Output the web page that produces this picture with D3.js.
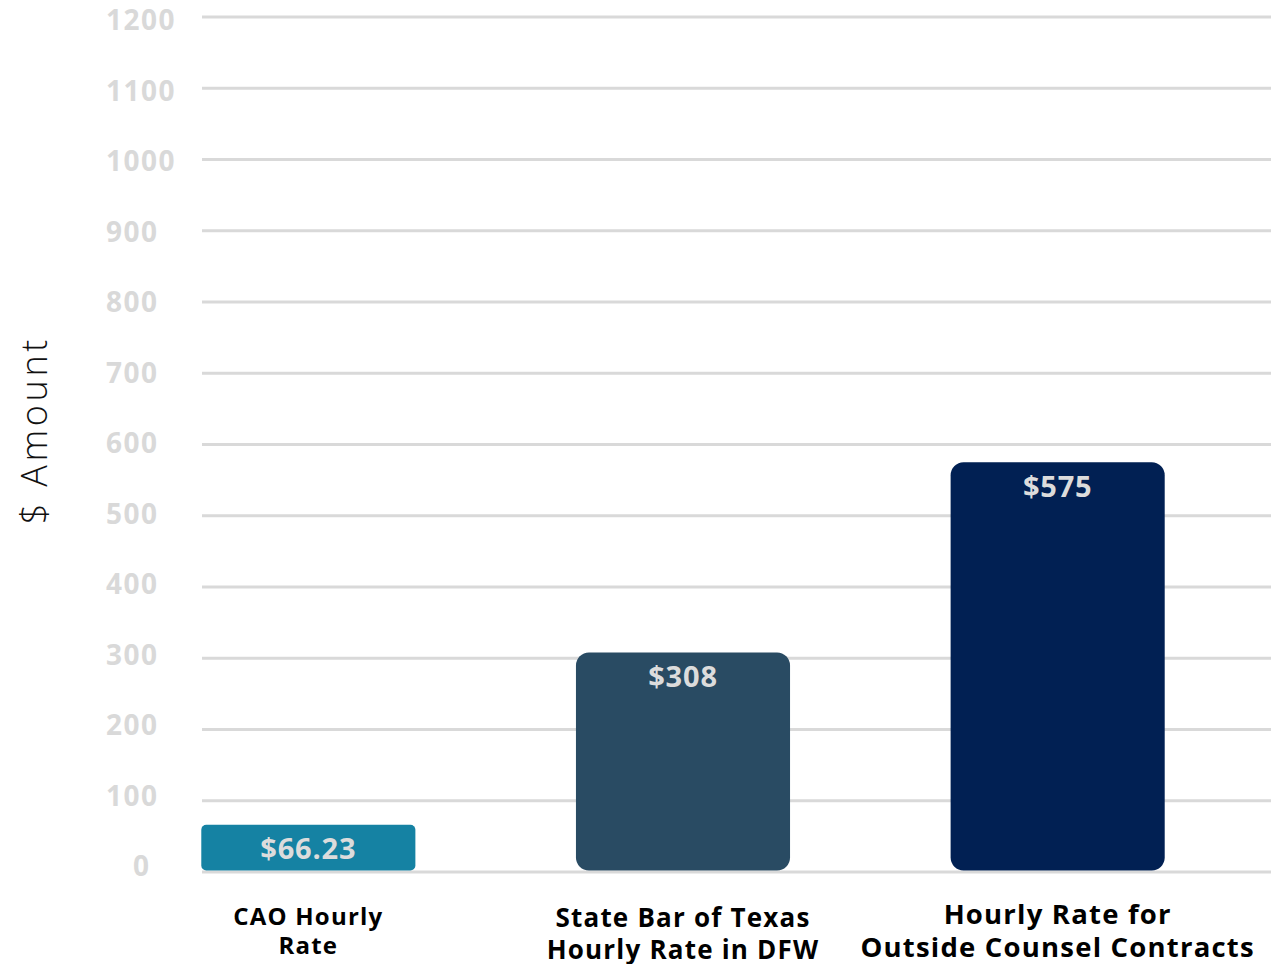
<!DOCTYPE html>
<html>
<head>
<meta charset="utf-8">
<script src="https://cdn.jsdelivr.net/npm/d3@7"></script>
<style>
  html, body { margin: 0; padding: 0; background: #ffffff; }
  svg { display: block; }
</style>
</head>
<body>
<svg id="chart" width="1271" height="964"></svg>
<script>
// ---- data ----
const categories = [
  ["CAO Hourly", "Rate"],
  ["State Bar of Texas", "Hourly Rate in DFW"],
  ["Hourly Rate for", "Outside Counsel Contracts"]
];
const values = [66.23, 308, 575];
const valueLabels = ["$66.23", "$308", "$575"];
const tickValues = [0, 100, 200, 300, 400, 500, 600, 700, 800, 900, 1000, 1100, 1200];
const yAxisTitle = "$ Amount";

// ---- drawing ----
const W = 1271, H = 964;
const svg = d3.select("#chart");
const barColors = ["#1582a3", "#294b63", "#012053"];
const keys = categories.map((c, i) => "c" + i);

const y = d3.scaleLinear().domain([0, 1200]).range([872, 17]);
const yLabel = d3.scaleLinear().domain([0, 1200]).range([866, 20]);
const x = d3.scaleBand().domain(keys).range([121, 1245])
  .paddingInner(0.4286).paddingOuter(0.2143);

// gridlines
svg.append("g").selectAll("line").data(tickValues).join("line")
  .attr("x1", 202).attr("x2", W)
  .attr("y1", d => y(d)).attr("y2", d => y(d))
  .attr("stroke", "#d9d9d9").attr("stroke-width", 3);

// tick labels
svg.append("g").selectAll("text").data(tickValues).join("text")
  .attr("x", d => d === 0 ? 133 : 106)
  .attr("y", d => yLabel(d))
  .attr("dy", "0.36em")
  .attr("font-family", "'Open Sans', sans-serif")
  .attr("font-weight", 700)
  .attr("font-size", 28)
  .attr("letter-spacing", 1.5)
  .attr("fill", "#d9d9d9")
  .text(d => d);

// y axis title
svg.append("text")
  .attr("transform", "translate(47,430) rotate(-90)")
  .attr("text-anchor", "middle")
  .attr("font-family", "'Open Sans', sans-serif")
  .attr("font-weight", 300)
  .attr("font-size", 36)
  .attr("letter-spacing", 3.6)
  .attr("fill", "#111")
  .text(yAxisTitle);

// bars
svg.append("g").selectAll("rect").data(values).join("rect")
  .attr("x", (d, i) => x(keys[i]))
  .attr("width", x.bandwidth())
  .attr("y", d => y(d))
  .attr("height", d => y(0) - 1.5 - y(d))
  .attr("rx", (d, i) => i === 0 ? 5 : 13)
  .attr("fill", (d, i) => barColors[i]);

// value labels
svg.append("g").selectAll("text").data(values).join("text")
  .attr("x", (d, i) => x(keys[i]) + x.bandwidth() / 2)
  .attr("y", d => y(d) + 24)
  .attr("dy", "0.36em")
  .attr("text-anchor", "middle")
  .attr("font-family", "'Open Sans', sans-serif")
  .attr("font-weight", 700)
  .attr("font-size", 29)
  .attr("letter-spacing", 0.8)
  .attr("fill", "#dcdcdc")
  .text((d, i) => valueLabels[i]);

// category labels
const catSizes = [24, 26, 27.5];
const catY = [916, 918, 914];
const catG = svg.append("g").selectAll("text").data(categories).join("text")
  .attr("text-anchor", "middle")
  .attr("font-family", "'Open Sans', sans-serif")
  .attr("font-weight", 700)
  .attr("font-size", (d, i) => catSizes[i])
  .attr("letter-spacing", 1.2)
  .attr("fill", "#000");
catG.each(function(d, i) {
  const t = d3.select(this);
  const cx = x(keys[i]) + x.bandwidth() / 2;
  d.forEach((line, j) => {
    t.append("tspan")
      .attr("x", cx)
      .attr("y", catY[i] + j * (catSizes[i] * 1.22))
      .attr("dy", "0.36em")
      .text(line);
  });
});
</script>
</body>
</html>
